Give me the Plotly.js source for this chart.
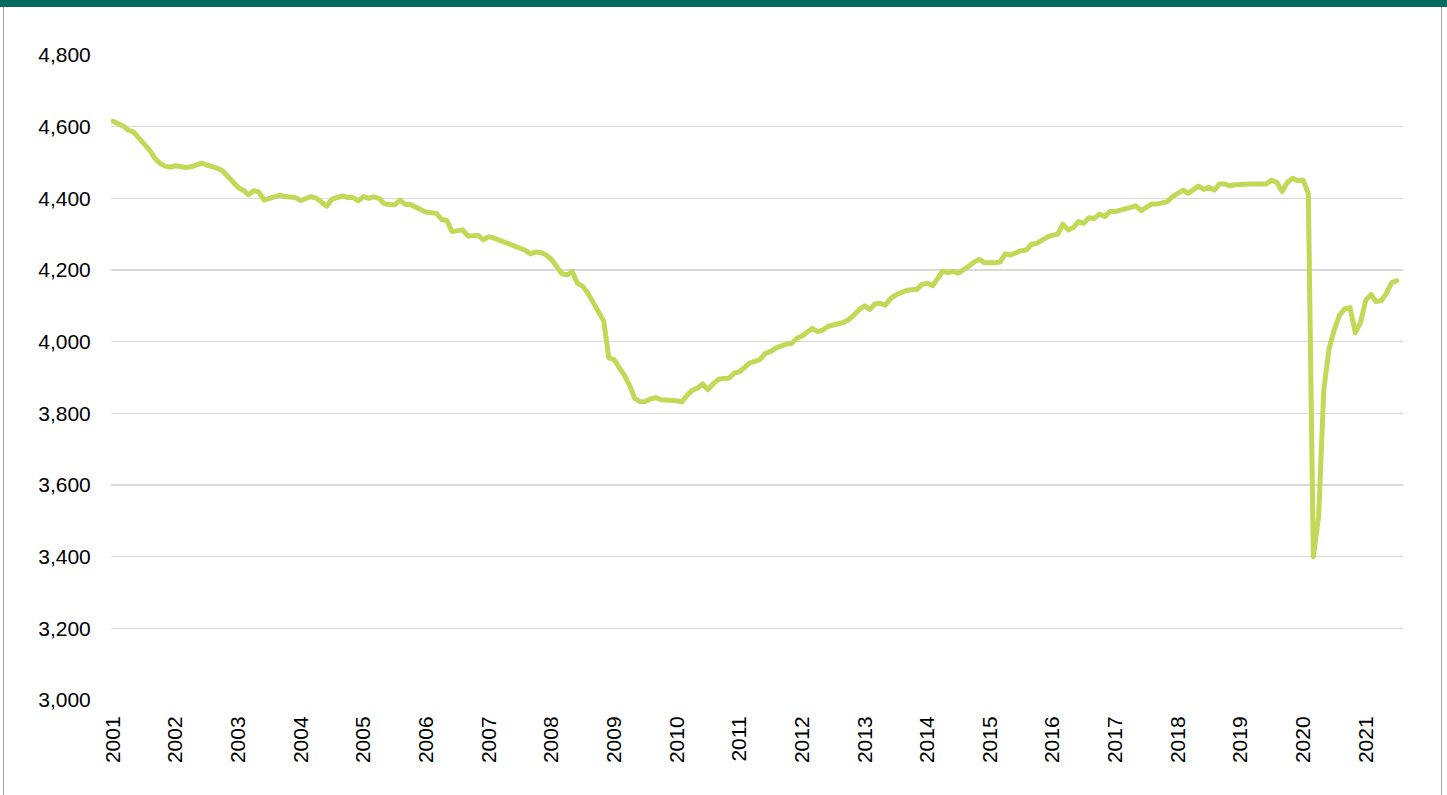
<!DOCTYPE html>
<html>
<head>
<meta charset="utf-8">
<script src="https://cdn.plot.ly/plotly-3.0.1.min.js"></script>
<style>
  html, body { margin: 0; padding: 0; background: #ffffff; }
  #wrap { position: relative; width: 1447px; height: 795px; overflow: hidden; }
  #chart { position: absolute; left: 0; top: 0; width: 1447px; height: 795px; }
  #topbar { position: absolute; left: 0; top: 0; width: 1447px; height: 7px; background: #006b5e; pointer-events: none; }
  #lborder { position: absolute; left: 3px; top: 7px; width: 1px; height: 788px; background: #a6a6a6; pointer-events: none; }
  #rborder { position: absolute; left: 1441px; top: 7px; width: 1px; height: 788px; background: #a6a6a6; pointer-events: none; }
  #chart .js-line { stroke-linejoin: round !important; stroke-linecap: round !important; }
</style>
</head>
<body>
<div id="wrap">
  <div id="chart"></div>
  <div id="topbar"></div>
  <div id="lborder"></div>
  <div id="rborder"></div>
</div>
<script>
// Monthly series, Jan 2001 - Jul 2021 (one array per year)
const startYear = 2001;
const values2001 = [4615, 4610, 4602, 4590, 4585, 4568, 4553, 4535, 4512, 4498, 4490, 4487];
const values2002 = [4491, 4489, 4486, 4488, 4492, 4498, 4493, 4489, 4484, 4477, 4460, 4443];
const values2003 = [4430, 4422, 4410, 4421, 4418, 4395, 4400, 4404, 4409, 4405, 4404, 4402];
const values2004 = [4394, 4398, 4405, 4400, 4388, 4378, 4398, 4402, 4407, 4402, 4402, 4393];
const values2005 = [4405, 4400, 4404, 4400, 4385, 4383, 4382, 4395, 4383, 4383, 4376, 4368];
const values2006 = [4361, 4360, 4358, 4341, 4338, 4307, 4310, 4312, 4295, 4297, 4296, 4284];
const values2007 = [4293, 4289, 4284, 4280, 4275, 4266, 4261, 4255, 4245, 4250, 4249, 4242];
const values2008 = [4230, 4210, 4190, 4186, 4196, 4163, 4155, 4135, 4110, 4085, 4058, 3955];
const values2009 = [3950, 3926, 3907, 3878, 3842, 3832, 3833, 3840, 3844, 3838, 3838, 3837];
const values2010 = [3835, 3832, 3850, 3864, 3870, 3882, 3866, 3882, 3895, 3897, 3898, 3912];
const values2011 = [3916, 3928, 3940, 3945, 3950, 3967, 3972, 3982, 3989, 3993, 3995, 4009];
const values2012 = [4016, 4027, 4037, 4028, 4032, 4043, 4045, 4050, 4054, 4062, 4075, 4090];
const values2013 = [4100, 4090, 4105, 4107, 4102, 4120, 4130, 4138, 4143, 4145, 4146, 4160];
const values2014 = [4163, 4156, 4178, 4197, 4193, 4196, 4191, 4200, 4211, 4222, 4230, 4220];
const values2015 = [4219, 4220, 4222, 4245, 4242, 4250, 4254, 4256, 4272, 4274, 4284, 4292];
const values2016 = [4297, 4300, 4328, 4312, 4318, 4335, 4330, 4346, 4344, 4356, 4349, 4363];
const values2017 = [4363, 4367, 4372, 4376, 4379, 4366, 4375, 4384, 4384, 4388, 4391, 4405];
const values2018 = [4415, 4423, 4414, 4425, 4434, 4425, 4431, 4423, 4440, 4440, 4435, 4438];
const values2019 = [4439, 4442, 4440, 4440, 4440, 4440, 4451, 4445, 4419, 4444, 4456, 4449];
const values2020 = [4451, 4414, 3400, 3512, 3865, 3981, 4033, 4074, 4092, 4095, 4025, 4053];
const values2021 = [4116, 4132, 4112, 4114, 4135, 4165, 4170];

const yearlyValues = [values2001, values2002, values2003, values2004, values2005, values2006,
  values2007, values2008, values2009, values2010, values2011, values2012, values2013,
  values2014, values2015, values2016, values2017, values2018, values2019, values2020, values2021];

const yTickValues = [3000, 3200, 3400, 3600, 3800, 4000, 4200, 4400, 4600, 4800];
const yTickLabels = ['3,000', '3,200', '3,400', '3,600', '3,800', '4,000', '4,200', '4,400', '4,600', '4,800'];

const dates = [];
const values = [];
yearlyValues.forEach((arr, yi) => {
  arr.forEach((v, m) => {
    const mm = String(m + 1).padStart(2, '0');
    dates.push((startYear + yi) + '-' + mm + '-01');
    values.push(v);
  });
});

const trace = {
  x: dates,
  y: values,
  type: 'scatter',
  mode: 'lines',
  line: { color: '#c0d957', width: 5, shape: 'linear' },
  hoverinfo: 'x+y'
};

const fontFam = 'Liberation Sans, Arial, sans-serif';

const layout = {
  width: 1447,
  height: 795,
  margin: { l: 111, r: 44, t: 55, b: 95, pad: 0 },
  paper_bgcolor: 'rgba(0,0,0,0)',
  plot_bgcolor: 'rgba(0,0,0,0)',
  showlegend: false,
  font: { family: fontFam, size: 21, color: '#000000' },
  xaxis: {
    type: 'date',
    range: ['2000-12-20', '2021-08-06'],
    tick0: '2001-01-01',
    dtick: 'M12',
    tickformat: '%Y',
    tickangle: -90,
    showgrid: false,
    zeroline: false,
    showline: false,
    ticks: 'outside',
    ticklen: 7,
    tickcolor: 'rgba(0,0,0,0)',
    tickfont: { family: fontFam, size: 21, color: '#000000' }
  },
  yaxis: {
    range: [3000, 4800],
    tickvals: yTickValues,
    ticktext: yTickLabels,
    showgrid: true,
    gridcolor: '#d9d9d9',
    gridwidth: 1.5,
    zeroline: false,
    showline: false,
    ticks: 'outside',
    ticklen: 15,
    tickcolor: 'rgba(0,0,0,0)',
    tickfont: { family: fontFam, size: 21, color: '#000000' }
  }
};

Plotly.newPlot('chart', [trace], layout, { displayModeBar: false, staticPlot: true });
</script>
</body>
</html>
